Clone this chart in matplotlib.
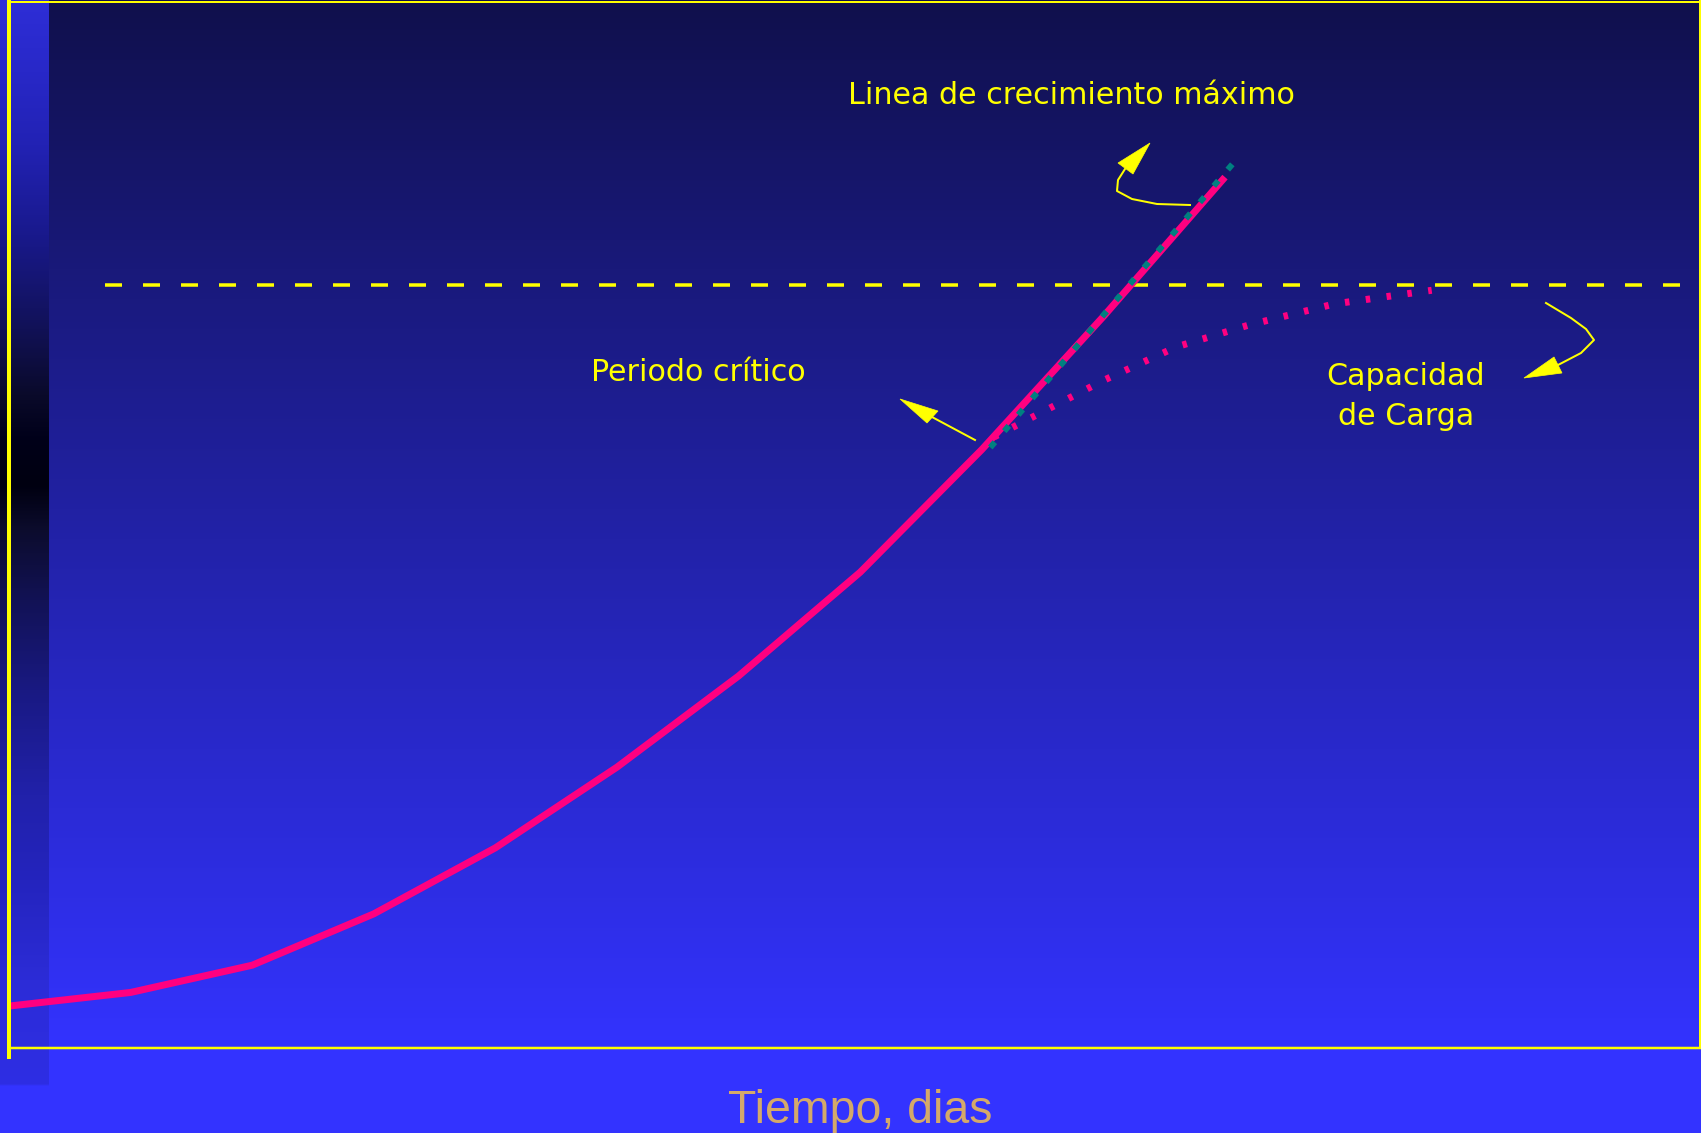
import numpy as np
import matplotlib
matplotlib.use("Agg")
import matplotlib.pyplot as plt
from matplotlib.patches import Polygon

plt.rcParams["font.family"] = ["Liberation Sans", "DejaVu Sans"]
plt.rcParams["lines.scale_dashes"] = False

# ---- data -------------------------------------------------------------
# exponential growth curve (days, population, arbitrary units)
dias = [0, 1, 2, 3, 4, 5, 6, 7, 8, 9, 10]
poblacion = [4.0, 5.3, 7.9, 12.8, 19.1, 26.8, 35.5, 45.4, 57.1, 69.8, 83.1]

# line of maximum growth
dias_max = [8.07, 10.11]
poblacion_max = [57.3, 85.0]

# logistic branch levelling off at the carrying capacity
dias_log = [8.1, 9.0, 9.6, 10.2, 10.9, 11.7]
poblacion_log = [58.3, 63.7, 66.9, 69.0, 71.0, 72.3]

capacidad_carga = 72.8
dias_capacidad = [0.79, 13.77]

# ---- figure -----------------------------------------------------------
W, H, DPI = 1701, 1133, 100
fig = plt.figure(figsize=(W / DPI, H / DPI), dpi=DPI)

# background: vertical gradient plus a darker strip on the left edge
bg = fig.add_axes([0, 0, 1, 1], zorder=0)
bg.set_axis_off()
ys = np.arange(H) + 0.5
t = np.clip(ys / 1048.0, 0, 1)
top_c = np.array([16, 16, 76]) / 255
bot_c = np.array([51, 51, 255]) / 255
main = top_c[None, :] * (1 - t[:, None]) + bot_c[None, :] * t[:, None]

strip_y = [0, 72, 145, 235, 320, 395, 440, 485, 530, 600, 690, 795, 880, 980, 1084, 1086]
strip_v = [(46, 46, 215), (40, 40, 200), (34, 34, 180), (25, 25, 140), (18, 18, 92),
           (10, 10, 42), (0, 0, 25), (0, 0, 16), (12, 12, 45), (18, 18, 85),
           (25, 25, 130), (33, 33, 170), (36, 36, 190), (44, 44, 215), (46, 46, 228),
           (51, 51, 255)]
strip_v = np.array(strip_v) / 255
strip = np.stack([np.interp(ys, strip_y, strip_v[:, k]) for k in range(3)], axis=1)

img = np.repeat(main[:, None, :], W, axis=1)
img[:, :49, :] = strip[:, None, :]
bg.imshow(img, extent=(0, W, H, 0), aspect="auto", interpolation="nearest")
bg.set_xlim(0, W)
bg.set_ylim(H, 0)

# ---- chart area -------------------------------------------------------
ax = fig.add_axes([9 / W, 85 / H, 1691 / W, 1048 / H], zorder=2)
ax.set_xlim(0, 1691 / 121.6)
ax.set_ylim(0, 100)
ax.set_axis_off()
ax.patch.set_visible(False)

px = 72 / DPI  # points per pixel

ax.plot(dias_capacidad, [capacidad_carga] * 2, color="#ffff00", lw=3.5 * px,
        dashes=(17 * px, 21 * px), dash_capstyle="butt", zorder=1)
ax.plot(dias, poblacion, color="#ff0080", lw=7 * px, solid_joinstyle="miter",
        solid_capstyle="butt", zorder=3)
ax.plot(dias_log, poblacion_log, color="#ff0080", lw=7 * px,
        dashes=(4.5 * px, 16.5 * px), dash_capstyle="butt", zorder=3)
ax.plot(dias_max, poblacion_max, color="#008080", lw=6 * px,
        dashes=(7 * px, 14.5 * px), dash_capstyle="butt", zorder=4)

# ---- frame, labels and arrows (figure pixel space) -------------------
ov = fig.add_axes([0, 0, 1, 1], zorder=3)
ov.set_xlim(0, W)
ov.set_ylim(H, 0)
ov.set_axis_off()
ov.patch.set_visible(False)

yellow = "#ffff00"
ov.plot([9, 9], [0, 1059], color=yellow, lw=4 * px, solid_capstyle="butt")
ov.plot([7, W], [2, 2], color=yellow, lw=2 * px, solid_capstyle="butt")
ov.plot([1700, 1700], [0, 1049], color=yellow, lw=2 * px, solid_capstyle="butt")
ov.plot([9, W], [1048, 1048], color=yellow, lw=2.5 * px, solid_capstyle="butt")

label_font = dict(color=yellow, fontsize=21.7, family=["DejaVu Sans"],
                  ha="center", va="baseline")
ov.text(1071, 104, "Linea de crecimiento máximo", **label_font)
ov.text(698, 381, "Periodo crítico", **label_font)
ov.text(1406, 385, "Capacidad", **label_font)
ov.text(1406, 425, "de Carga", **label_font)
ov.text(860, 1123, "Tiempo, dias", color="#d4a96a", fontsize=33.5,
        ha="center", va="baseline")


def arrow(shaft, tip, c1, c2):
    xs, ys_ = zip(*shaft)
    ov.plot(xs, ys_, color=yellow, lw=2 * px, solid_joinstyle="round")
    ov.add_patch(Polygon([tip, c1, c2], closed=True, facecolor=yellow,
                         edgecolor=yellow, lw=0.5))


arrow([(975, 440), (932, 417)], (900, 399), (938, 411), (927, 423))
arrow([(1190, 205), (1157, 204), (1132, 199), (1117, 191), (1118, 180), (1125, 169)],
      (1150, 143), (1118, 163), (1133, 174))
arrow([(1546, 303), (1571, 318), (1586, 329), (1594, 340), (1581, 353), (1558, 365)],
      (1524, 378), (1554, 357), (1562, 373))

fig.savefig("out.png", dpi=DPI)
